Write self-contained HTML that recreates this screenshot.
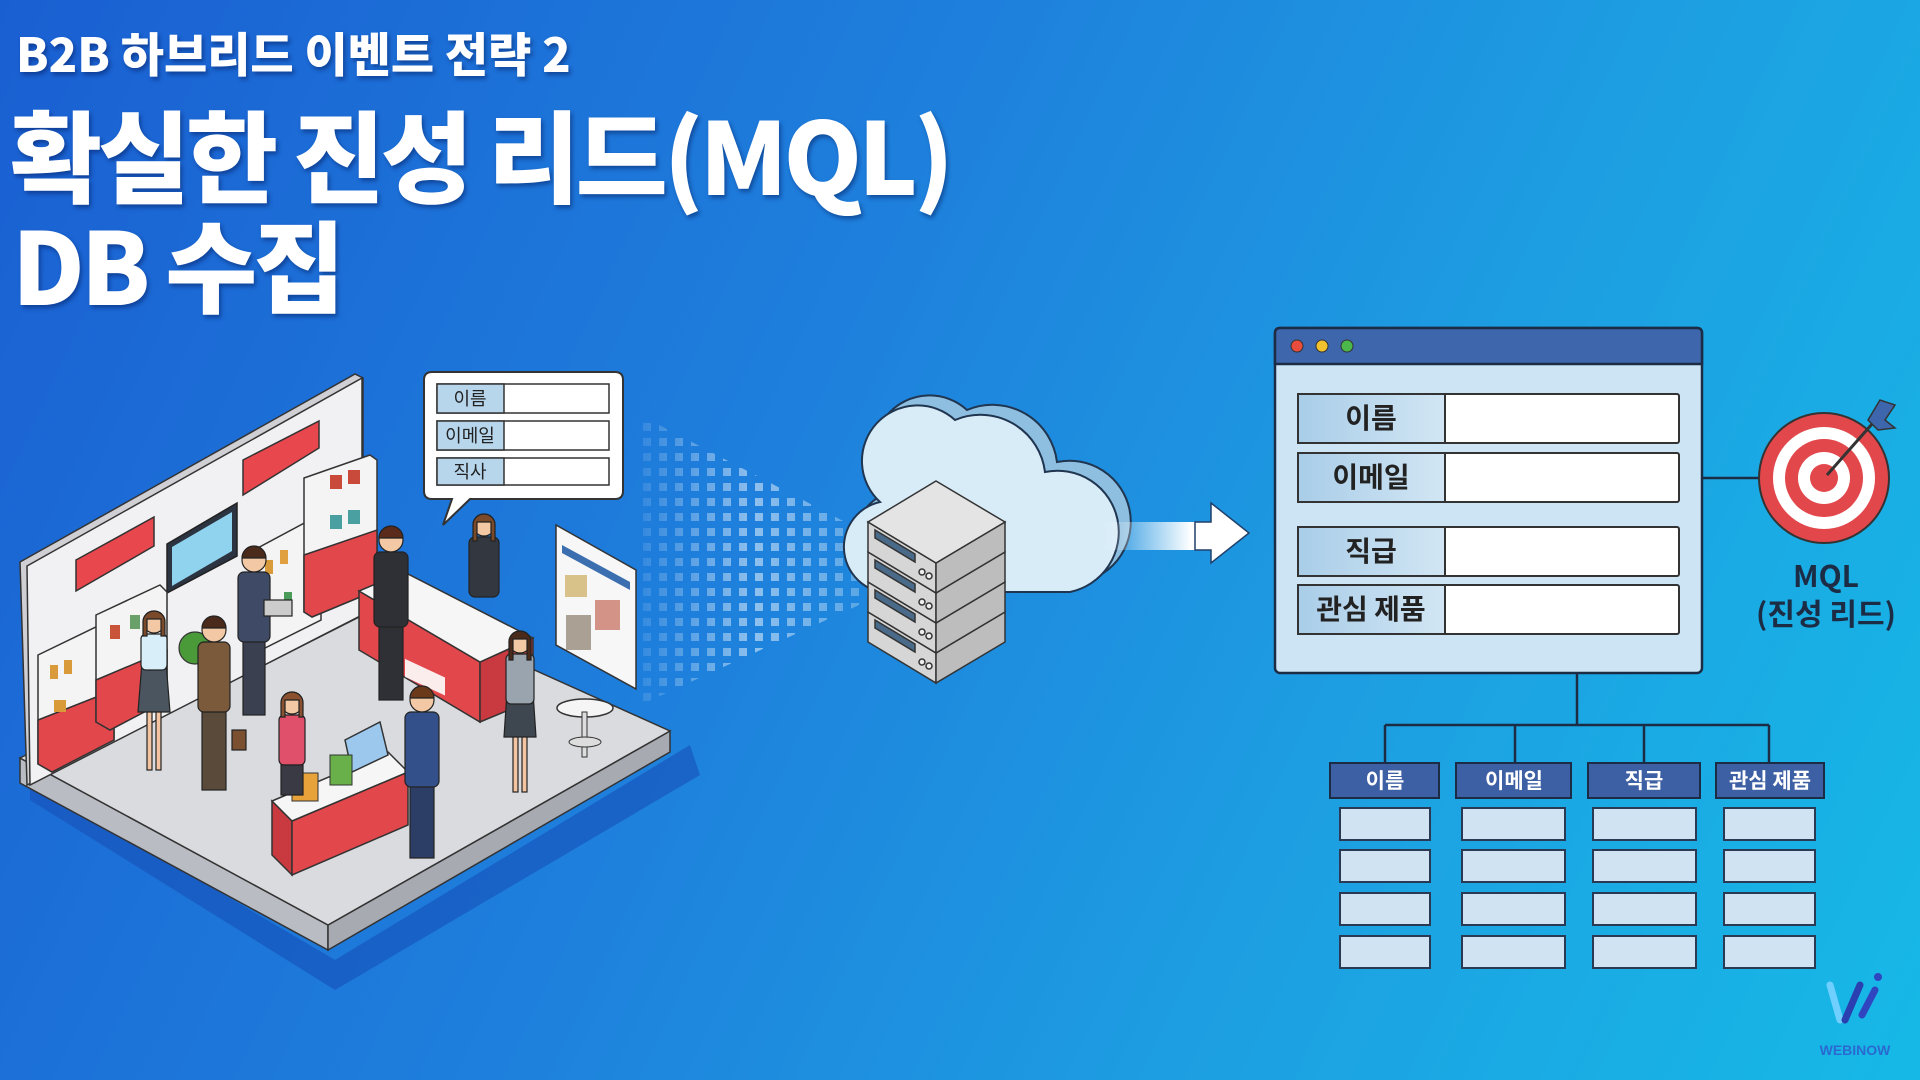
<!DOCTYPE html>
<html><head><meta charset="utf-8">
<style>
html,body{margin:0;padding:0;}
body{width:1920px;height:1080px;overflow:hidden;position:relative;
background:linear-gradient(115deg,#1a5fd2 0%,#1e7fdc 40%,#1d9fe2 70%,#16b9e6 100%);
font-family:"Liberation Sans","Noto Sans CJK KR",sans-serif;}
.t{position:absolute;color:#fff;font-family:"Noto Sans CJK KR","Liberation Sans",sans-serif;font-weight:900;white-space:nowrap;line-height:1;
text-shadow:2px 3px 4px rgba(0,20,80,.45);}
svg{position:absolute;left:0;top:0;}
</style></head><body>
<div class="t" style="left:16px;top:28px;font-size:47px;letter-spacing:0px;">B2B 하브리드 이벤트 전략 2</div>
<div class="t" style="left:10px;top:102px;font-size:100px;letter-spacing:-4px;">확실한 진성 리드(MQL)</div>
<div class="t" style="left:12px;top:212px;font-size:100px;letter-spacing:-4px;">DB 수집</div>

<svg width="1920" height="1080" viewBox="0 0 1920 1080" font-family="Noto Sans CJK KR, Liberation Sans, sans-serif">
<defs>
<pattern id="dots" width="16" height="15" patternUnits="userSpaceOnUse">
<rect x="3" y="3" width="8" height="8" fill="#ffffff"/></pattern>
<linearGradient id="fade" x1="0" x2="1" y1="0" y2="0">
<stop offset="0" stop-color="#fff" stop-opacity="0.1"/><stop offset="0.5" stop-color="#fff" stop-opacity="0.5"/><stop offset="1" stop-color="#fff" stop-opacity="0.25"/></linearGradient>
<mask id="m"><polygon points="640,415 870,535 870,600 640,705" fill="url(#fade)"/></mask>
<linearGradient id="arr" x1="0" x2="1"><stop offset="0" stop-color="#fff" stop-opacity="0"/><stop offset="0.6" stop-color="#fff"/></linearGradient>
<linearGradient id="lab" x1="0" x2="1"><stop offset="0" stop-color="#a9cde8"/><stop offset="1" stop-color="#d2e6f4"/></linearGradient>
</defs>

<polygon points="30,780 335,960 690,745 700,775 335,990 30,800" fill="#1650b8" opacity="0.6"/>
<polygon points="20,758 328,925 328,950 20,783" fill="#b9bcc2" stroke="#333" stroke-width="1.5"/>
<polygon points="328,925 670,731 670,752 328,950" fill="#a7aab0" stroke="#333" stroke-width="1.5"/>
<polygon points="20,758 357,590 670,731 328,925" fill="#dadbdf" stroke="#333" stroke-width="1.5"/>
<polygon points="20,562 355,374 363,378 363,615 27,785" fill="#d0d0d4" stroke="#333" stroke-width="1.5"/>
<polygon points="27,566 362,378 362,615 30,785" fill="#f1f1f3" stroke="#333" stroke-width="1.5"/>
<polygon points="76,560 154,517 154,546 76,591" fill="#e8474d" stroke="#333" stroke-width="1.5"/>
<polygon points="243,460 319,421 319,448 243,495" fill="#e8474d" stroke="#333" stroke-width="1.5"/>
<polygon points="167,544 237,503 237,556 167,593" fill="#2b3440" stroke="#222" stroke-width="1.5"/>
<polygon points="172,547 232,512 232,551 172,586" fill="#8fd3ee"/>
<g stroke="#333" stroke-width="1.5">
<polygon points="38,655 100,625 114,632 114,740 52,772 38,764" fill="#f4f4f4"/>
<polygon points="38,720 114,690 114,740 52,772 38,764" fill="#e2474c"/>
<polygon points="96,615 160,585 167,592 167,700 110,730 96,722" fill="#f4f4f4"/>
<polygon points="96,680 167,650 167,700 110,730 96,722" fill="#e2474c"/>
<polygon points="254,550 310,520 321,526 321,620 265,648 254,642" fill="#f4f4f4"/>
<polygon points="304,478 370,455 377,460 377,590 312,617 304,612" fill="#f4f4f4"/>
<polygon points="304,555 377,530 377,590 312,617 304,612" fill="#e2474c"/>
</g>
<g fill="#d99a3a"><rect x="50" y="665" width="8" height="14"/><rect x="64" y="660" width="8" height="14"/><rect x="54" y="700" width="12" height="12"/><rect x="110" y="625" width="10" height="14" fill="#c9543a"/><rect x="130" y="615" width="10" height="14" fill="#6aa06a"/>
<rect x="265" y="560" width="8" height="14"/><rect x="280" y="550" width="8" height="14" fill="#e0a040"/><rect x="268" y="600" width="8" height="14" fill="#4a9a5a"/><rect x="284" y="592" width="8" height="14" fill="#4a9a5a"/>
<rect x="330" y="475" width="12" height="14" fill="#c94a3a"/><rect x="348" y="470" width="12" height="14" fill="#c94a3a"/><rect x="330" y="515" width="12" height="14" fill="#4aa0a0"/><rect x="348" y="510" width="12" height="14" fill="#4aa0a0"/></g>
<circle cx="195" cy="648" r="16" fill="#4a9a3a" stroke="#333" stroke-width="1.2"/>
<g stroke="#333" stroke-width="1.5">
<polygon points="359,591 359,650 480,722 480,662" fill="#e2474c"/>
<polygon points="480,662 533,638 533,700 480,722" fill="#c93a40"/>
<polygon points="359,591 404,572 533,638 480,662" fill="#f6f6f6"/>
<polygon points="272,801 272,855 292,875 292,821" fill="#c93a40"/>
<polygon points="292,821 408,772 408,825 292,875" fill="#e2474c"/>
<polygon points="272,801 388,752 408,772 292,821" fill="#f6f6f6"/>
</g>
<rect x="405" y="660" width="40" height="18" fill="#fff" transform="skewY(25) translate(0,-190)" opacity="0.9"/>
<polygon points="345,740 380,722 388,755 352,772" fill="#9cc8ee" stroke="#333" stroke-width="1.5"/>
<rect x="292" y="773" width="26" height="28" fill="#e8a23a" stroke="#333"/><rect x="330" y="755" width="22" height="30" fill="#6ab04a" stroke="#333"/>
<polygon points="556,525 636,570 636,689 556,645" fill="#f7f7f7" stroke="#333" stroke-width="1.5"/>
<polygon points="562,545 630,582 630,590 562,553" fill="#3b6fb0"/>
<rect x="565" y="575" width="22" height="22" fill="#d9c28a"/><rect x="595" y="600" width="25" height="30" fill="#c97a6a" opacity=".8"/><rect x="566" y="615" width="25" height="35" fill="#8a7a6a" opacity=".7"/>
<ellipse cx="585" cy="708" rx="28" ry="9" fill="#f5f5f5" stroke="#333" stroke-width="1.5"/>
<rect x="582" y="712" width="5" height="45" fill="#ddd" stroke="#333"/>
<ellipse cx="585" cy="742" rx="16" ry="5" fill="#ddd" stroke="#333"/>

<g stroke="#222" stroke-width="1.2">
<g transform="translate(154,622)"><rect x="-7" y="70" width="5" height="78" fill="#f2c4a2"/><rect x="2" y="70" width="5" height="78" fill="#f2c4a2"/><path d="M-12 40 L12 40 L16 90 L-16 90Z" fill="#4a5560"/><rect x="-13" y="12" width="26" height="36" rx="5" fill="#d8eef8"/><circle r="11" fill="#f3c9a5"/><path d="M-11 0 A11 11 0 0 1 11 0 L11 14 L7 14 L7 -3 L-7 -3 L-7 14 L-11 14Z" fill="#7a4a2a"/></g>
<g transform="translate(214,630)"><rect x="-12" y="75" width="24" height="85" fill="#5a4a3a"/><rect x="-16" y="12" width="32" height="70" rx="6" fill="#7a5a3a"/><rect x="18" y="100" width="14" height="20" fill="#7a5030"/><circle r="12" fill="#f3c9a5"/><path d="M-12 -2 A12 12 0 0 1 12 -2Z" fill="#4a2a1a"/></g>
<g transform="translate(254,560)"><rect x="-11" y="75" width="22" height="80" fill="#3a4050"/><rect x="-16" y="12" width="32" height="70" rx="6" fill="#3e4a66"/><rect x="10" y="40" width="28" height="16" fill="#ccc"/><circle r="12" fill="#f3c9a5"/><path d="M-12 -2 A12 12 0 0 1 12 -2Z" fill="#4a2a1a"/></g>
<g transform="translate(391,540)"><rect x="-12" y="80" width="24" height="80" fill="#2e3036"/><rect x="-17" y="12" width="34" height="75" rx="6" fill="#2e3036"/><circle r="12" fill="#f3c9a5"/><path d="M-12 -2 A12 12 0 0 1 12 -2Z" fill="#5a2a1a"/></g>
<g transform="translate(484,525)"><rect x="-15" y="12" width="30" height="60" rx="6" fill="#333840"/><circle r="11" fill="#f3c9a5"/><path d="M-11 0 A11 11 0 0 1 11 0 L11 16 L7 16 L7 -3 L-7 -3 L-7 16 L-11 16Z" fill="#7a4a2a"/></g>
<g transform="translate(292,703)"><rect x="-13" y="12" width="26" height="50" rx="5" fill="#e0506a"/><rect x="-11" y="62" width="22" height="30" fill="#3a3a44"/><circle r="11" fill="#f3c9a5"/><path d="M-11 0 A11 11 0 0 1 11 0 L11 14 L7 14 L7 -3 L-7 -3 L-7 14 L-11 14Z" fill="#8a5030"/></g>
<g transform="translate(422,700)"><rect x="-12" y="80" width="24" height="78" fill="#2c3e66"/><rect x="-17" y="12" width="34" height="75" rx="6" fill="#34508a"/><circle r="12" fill="#f3c9a5"/><path d="M-12 -2 A12 12 0 0 1 12 -2Z" fill="#6a3a1a"/></g>
<g transform="translate(520,642)"><rect x="-7" y="80" width="5" height="70" fill="#f2c4a2"/><rect x="2" y="80" width="5" height="70" fill="#f2c4a2"/><path d="M-13 50 L13 50 L16 95 L-16 95Z" fill="#3e4650"/><rect x="-14" y="12" width="28" height="50" rx="5" fill="#9aa4ae"/><circle r="11" fill="#f3c9a5"/><path d="M-11 0 A11 11 0 0 1 11 0 L11 18 L7 18 L7 -3 L-7 -3 L-7 18 L-11 18Z" fill="#4a2a1a"/></g>
</g>

<path d="M432 372 H615 Q623 372 623 380 V491 Q623 499 615 499 H470 L443 525 L452 499 H432 Q424 499 424 491 V380 Q424 372 432 372Z" fill="#fff" stroke="#333" stroke-width="2"/>
<g stroke="#333" stroke-width="1.5">
<rect x="437" y="384" width="172" height="29" fill="#fff"/><rect x="437" y="384" width="67" height="29" fill="#b7d6ec"/>
<rect x="437" y="421" width="172" height="29" fill="#fff"/><rect x="437" y="421" width="67" height="29" fill="#b7d6ec"/>
<rect x="437" y="458" width="172" height="27" fill="#fff"/><rect x="437" y="458" width="67" height="27" fill="#b7d6ec"/>
</g>
<g font-size="18" fill="#222" text-anchor="middle"><text x="470" y="405">이름</text><text x="470" y="442">이메일</text><text x="470" y="478">직사</text></g>

<rect x="640" y="415" width="232" height="290" fill="url(#dots)" mask="url(#m)"/>

<path d="M912 582 A45 45 0 0 1 892 492 A55 55 0 0 1 967 410 A65 65 0 0 1 1057 462 A48 48 0 0 1 1082 582Z" fill="#8fbfe0" stroke="#1f3550" stroke-width="2"/>
<path d="M900 592 A45 45 0 0 1 880 502 A55 55 0 0 1 955 420 A65 65 0 0 1 1045 472 A48 48 0 0 1 1070 592Z" fill="#d8ecf8" stroke="#1f3550" stroke-width="2"/>
<polygon points="1104,522 1211,522 1211,503 1249,533 1211,563 1211,550 1104,550" fill="url(#arr)"/>
<polygon points="1211,503 1249,533 1211,563 1211,550 1195,550 1195,522 1211,522" fill="none" stroke="#20406a" stroke-width="1.5"/>
<g stroke="#333" stroke-width="1.5">
<g transform="translate(0,90)"><polygon points="868,522 936,563 936,593 868,552" fill="#d6d6d6"/><polygon points="936,563 1005,522 1005,552 936,593" fill="#bdbdbd"/><polygon points="875,530 915,554 915,562 875,538" fill="#4a6a8a"/><circle cx="922" cy="572" r="3" fill="#eee"/><circle cx="929" cy="576" r="3" fill="#eee"/></g>
<g transform="translate(0,60)"><polygon points="868,522 936,563 936,593 868,552" fill="#d6d6d6"/><polygon points="936,563 1005,522 1005,552 936,593" fill="#bdbdbd"/><polygon points="875,530 915,554 915,562 875,538" fill="#4a6a8a"/><circle cx="922" cy="572" r="3" fill="#eee"/><circle cx="929" cy="576" r="3" fill="#eee"/></g>
<g transform="translate(0,30)"><polygon points="868,522 936,563 936,593 868,552" fill="#d6d6d6"/><polygon points="936,563 1005,522 1005,552 936,593" fill="#bdbdbd"/><polygon points="875,530 915,554 915,562 875,538" fill="#4a6a8a"/><circle cx="922" cy="572" r="3" fill="#eee"/><circle cx="929" cy="576" r="3" fill="#eee"/></g>
<g><polygon points="868,522 936,563 936,593 868,552" fill="#d6d6d6"/><polygon points="936,563 1005,522 1005,552 936,593" fill="#bdbdbd"/><polygon points="875,530 915,554 915,562 875,538" fill="#4a6a8a"/><circle cx="922" cy="572" r="3" fill="#eee"/><circle cx="929" cy="576" r="3" fill="#eee"/></g>
<polygon points="936,481 1005,522 936,563 868,522" fill="#e4e4e4"/>
</g>

<rect x="1275" y="328" width="427" height="345" rx="5" fill="#cde4f4" stroke="#1c2c45" stroke-width="2.5"/>
<path d="M1280 328 H1697 Q1702 328 1702 333 V364 H1275 V333 Q1275 328 1280 328Z" fill="#3d66ad" stroke="#1c2c45" stroke-width="2.5"/>
<circle cx="1297" cy="346" r="6" fill="#e74c3c" stroke="#333"/><circle cx="1322" cy="346" r="6" fill="#f2c12e" stroke="#333"/><circle cx="1347" cy="346" r="6" fill="#4cb84c" stroke="#333"/>
<g stroke="#333" stroke-width="2">
<rect x="1298" y="394" width="381" height="49" rx="2" fill="#fff"/><rect x="1298" y="394" width="147" height="49" fill="url(#lab)"/>
<rect x="1298" y="453" width="381" height="49" rx="2" fill="#fff"/><rect x="1298" y="453" width="147" height="49" fill="url(#lab)"/>
<rect x="1298" y="527" width="381" height="49" rx="2" fill="#fff"/><rect x="1298" y="527" width="147" height="49" fill="url(#lab)"/>
<rect x="1298" y="585" width="381" height="49" rx="2" fill="#fff"/><rect x="1298" y="585" width="147" height="49" fill="url(#lab)"/>
</g>
<g font-size="28" font-weight="700" fill="#222" text-anchor="middle">
<text x="1371" y="428">이름</text><text x="1371" y="487">이메일</text><text x="1371" y="561">직급</text><text x="1371" y="619">관심 제품</text></g>

<line x1="1702" y1="478" x2="1760" y2="478" stroke="#1c2c45" stroke-width="2.5"/>
<circle cx="1824" cy="478" r="65" fill="#e2474c" stroke="#333" stroke-width="2"/>
<circle cx="1824" cy="478" r="51" fill="#fff"/>
<circle cx="1824" cy="478" r="39" fill="#e2474c"/>
<circle cx="1824" cy="478" r="26" fill="#fff"/>
<circle cx="1824" cy="478" r="14" fill="#e2474c"/>
<line x1="1827" y1="475" x2="1880" y2="415" stroke="#333" stroke-width="3"/>
<polygon points="1868,420 1880,400 1895,405 1885,420 1895,428 1878,430" fill="#3d66ad" stroke="#333" stroke-width="1.5"/>
<g font-size="30" font-weight="700" fill="#1c2c45" text-anchor="middle"><text x="1826" y="587">MQL</text><text x="1826" y="625">(진성 리드)</text></g>

<g stroke="#1c2c45" stroke-width="2.5" fill="none">
<line x1="1577" y1="673" x2="1577" y2="725"/><line x1="1385" y1="725" x2="1769" y2="725"/>
<line x1="1385" y1="725" x2="1385" y2="763"/><line x1="1515" y1="725" x2="1515" y2="763"/><line x1="1644" y1="725" x2="1644" y2="763"/><line x1="1769" y1="725" x2="1769" y2="763"/>
</g>
<g fill="#3d5fa3" stroke="#1c2c45" stroke-width="2">
<rect x="1330" y="763" width="109" height="35"/><rect x="1456" y="763" width="115" height="35"/><rect x="1588" y="763" width="112" height="35"/><rect x="1716" y="763" width="108" height="35"/></g>
<g font-size="21" font-weight="700" fill="#fff" text-anchor="middle"><text x="1385" y="788">이름</text><text x="1514" y="788">이메일</text><text x="1644" y="788">직급</text><text x="1770" y="788">관심 제품</text></g>
<g fill="#cfe3f2" stroke="#2a3a55" stroke-width="2">
<rect x="1340" y="808" width="90" height="32"/><rect x="1462" y="808" width="103" height="32"/><rect x="1593" y="808" width="103" height="32"/><rect x="1724" y="808" width="91" height="32"/>
<rect x="1340" y="850" width="90" height="32"/><rect x="1462" y="850" width="103" height="32"/><rect x="1593" y="850" width="103" height="32"/><rect x="1724" y="850" width="91" height="32"/>
<rect x="1340" y="893" width="90" height="32"/><rect x="1462" y="893" width="103" height="32"/><rect x="1593" y="893" width="103" height="32"/><rect x="1724" y="893" width="91" height="32"/>
<rect x="1340" y="936" width="90" height="32"/><rect x="1462" y="936" width="103" height="32"/><rect x="1593" y="936" width="103" height="32"/><rect x="1724" y="936" width="91" height="32"/>
</g>
<g stroke-linecap="round" fill="none"><line x1="1830" y1="985" x2="1840" y2="1020" stroke="#6fd0ff" stroke-width="7"/><line x1="1845" y1="1020" x2="1860" y2="985" stroke="#2a3fb0" stroke-width="7"/><line x1="1862" y1="1015" x2="1875" y2="990" stroke="#3045c0" stroke-width="7"/></g>
<circle cx="1878" cy="977" r="4" fill="#3045c0"/>
<text x="1855" y="1055" font-size="14" font-weight="700" fill="#2a6ad0" text-anchor="middle" font-family="Liberation Sans, sans-serif">WEBINOW</text>
</svg>
</body></html>
